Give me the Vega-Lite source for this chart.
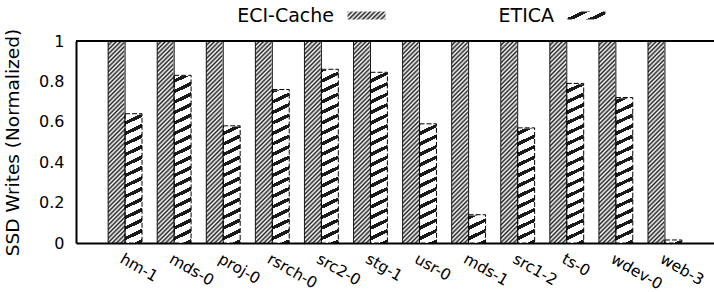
{
  "$schema": "https://vega.github.io/schema/vega-lite/v6.json",
  "autosize": "none",
  "width": 638,
  "height": 202,
  "padding": {"left": 76, "top": 41, "right": 0, "bottom": 49},
  "background": "white",
  "config": {
    "font": "DejaVu Sans",
    "view": {"stroke": null},
    "axis": {"domainColor": "black", "domainWidth": 2, "labelColor": "black", "titleColor": "black", "ticks": false, "grid": false},
    "legend": {"symbolOpacity": 1}
  },
  "resolve": {"scale": {"strokeDash": "independent"}, "legend": {"strokeDash": "independent"}},
  "data": {
    "values": [
      {"workload": "hm-1", "system": "ECI-Cache", "value": 1},
      {"workload": "hm-1", "system": "ETICA", "value": 0.64},
      {"workload": "mds-0", "system": "ECI-Cache", "value": 1},
      {"workload": "mds-0", "system": "ETICA", "value": 0.83},
      {"workload": "proj-0", "system": "ECI-Cache", "value": 1},
      {"workload": "proj-0", "system": "ETICA", "value": 0.58},
      {"workload": "rsrch-0", "system": "ECI-Cache", "value": 1},
      {"workload": "rsrch-0", "system": "ETICA", "value": 0.76},
      {"workload": "src2-0", "system": "ECI-Cache", "value": 1},
      {"workload": "src2-0", "system": "ETICA", "value": 0.86},
      {"workload": "stg-1", "system": "ECI-Cache", "value": 1},
      {"workload": "stg-1", "system": "ETICA", "value": 0.845},
      {"workload": "usr-0", "system": "ECI-Cache", "value": 1},
      {"workload": "usr-0", "system": "ETICA", "value": 0.59},
      {"workload": "mds-1", "system": "ECI-Cache", "value": 1},
      {"workload": "mds-1", "system": "ETICA", "value": 0.14},
      {"workload": "src1-2", "system": "ECI-Cache", "value": 1},
      {"workload": "src1-2", "system": "ETICA", "value": 0.57},
      {"workload": "ts-0", "system": "ECI-Cache", "value": 1},
      {"workload": "ts-0", "system": "ETICA", "value": 0.79},
      {"workload": "wdev-0", "system": "ECI-Cache", "value": 1},
      {"workload": "wdev-0", "system": "ETICA", "value": 0.72},
      {"workload": "web-3", "system": "ECI-Cache", "value": 1},
      {"workload": "web-3", "system": "ETICA", "value": 0.015}
    ]
  },
  "layer": [
    {
      "resolve": {"scale": {"strokeDash": "independent"}, "legend": {"strokeDash": "independent"}},
      "encoding": {
        "x": {
          "field": "workload", "type": "nominal", "title": null,
          "scale": {"domain": ["hm-1","mds-0","proj-0","rsrch-0","src2-0","stg-1","usr-0","mds-1","src1-2","ts-0","wdev-0","web-3"], "paddingInner": 0.31, "paddingOuter": 0.655},
          "axis": {"labelAngle": 30, "labelAlign": "left", "labelBaseline": "top", "labelPadding": 8, "labelFontSize": 15.5}
        },
        "xOffset": {"field": "system", "type": "nominal", "scale": {"domain": ["ECI-Cache", "ETICA"], "paddingInner": 0, "paddingOuter": 0}}
      },
      "layer": [
        {
          "transform": [{"filter": "datum.system === 'ECI-Cache'"}],
          "mark": {"type": "bar", "strokeWidth": 0, "fill": {"gradient": "linear", "x1": 0, "y1": 0, "x2": 0.0907, "y2": 1.0775, "stops": [
            {"offset": 0, "color": "#222"}, {"offset": 0.01, "color": "#fff"}, {"offset": 0.02, "color": "#222"}, {"offset": 0.03, "color": "#fff"},
            {"offset": 0.04, "color": "#222"}, {"offset": 0.05, "color": "#fff"}, {"offset": 0.06, "color": "#222"}, {"offset": 0.07, "color": "#fff"},
            {"offset": 0.08, "color": "#222"}, {"offset": 0.09, "color": "#fff"}, {"offset": 0.1, "color": "#222"}, {"offset": 0.11, "color": "#fff"},
            {"offset": 0.12, "color": "#222"}, {"offset": 0.13, "color": "#fff"}, {"offset": 0.14, "color": "#222"}, {"offset": 0.15, "color": "#fff"},
            {"offset": 0.16, "color": "#222"}, {"offset": 0.17, "color": "#fff"}, {"offset": 0.18, "color": "#222"}, {"offset": 0.19, "color": "#fff"},
            {"offset": 0.2, "color": "#222"}, {"offset": 0.21, "color": "#fff"}, {"offset": 0.22, "color": "#222"}, {"offset": 0.23, "color": "#fff"},
            {"offset": 0.24, "color": "#222"}, {"offset": 0.25, "color": "#fff"}, {"offset": 0.26, "color": "#222"}, {"offset": 0.27, "color": "#fff"},
            {"offset": 0.28, "color": "#222"}, {"offset": 0.29, "color": "#fff"}, {"offset": 0.3, "color": "#222"}, {"offset": 0.31, "color": "#fff"},
            {"offset": 0.32, "color": "#222"}, {"offset": 0.33, "color": "#fff"}, {"offset": 0.34, "color": "#222"}, {"offset": 0.35, "color": "#fff"},
            {"offset": 0.36, "color": "#222"}, {"offset": 0.37, "color": "#fff"}, {"offset": 0.38, "color": "#222"}, {"offset": 0.39, "color": "#fff"},
            {"offset": 0.4, "color": "#222"}, {"offset": 0.41, "color": "#fff"}, {"offset": 0.42, "color": "#222"}, {"offset": 0.43, "color": "#fff"},
            {"offset": 0.44, "color": "#222"}, {"offset": 0.45, "color": "#fff"}, {"offset": 0.46, "color": "#222"}, {"offset": 0.47, "color": "#fff"},
            {"offset": 0.48, "color": "#222"}, {"offset": 0.49, "color": "#fff"}, {"offset": 0.5, "color": "#222"}, {"offset": 0.51, "color": "#fff"},
            {"offset": 0.52, "color": "#222"}, {"offset": 0.53, "color": "#fff"}, {"offset": 0.54, "color": "#222"}, {"offset": 0.55, "color": "#fff"},
            {"offset": 0.56, "color": "#222"}, {"offset": 0.57, "color": "#fff"}, {"offset": 0.58, "color": "#222"}, {"offset": 0.59, "color": "#fff"},
            {"offset": 0.6, "color": "#222"}, {"offset": 0.61, "color": "#fff"}, {"offset": 0.62, "color": "#222"}, {"offset": 0.63, "color": "#fff"},
            {"offset": 0.64, "color": "#222"}, {"offset": 0.65, "color": "#fff"}, {"offset": 0.66, "color": "#222"}, {"offset": 0.67, "color": "#fff"},
            {"offset": 0.68, "color": "#222"}, {"offset": 0.69, "color": "#fff"}, {"offset": 0.7, "color": "#222"}, {"offset": 0.71, "color": "#fff"},
            {"offset": 0.72, "color": "#222"}, {"offset": 0.73, "color": "#fff"}, {"offset": 0.74, "color": "#222"}, {"offset": 0.75, "color": "#fff"},
            {"offset": 0.76, "color": "#222"}, {"offset": 0.77, "color": "#fff"}, {"offset": 0.78, "color": "#222"}, {"offset": 0.79, "color": "#fff"},
            {"offset": 0.8, "color": "#222"}, {"offset": 0.81, "color": "#fff"}, {"offset": 0.82, "color": "#222"}, {"offset": 0.83, "color": "#fff"},
            {"offset": 0.84, "color": "#222"}, {"offset": 0.85, "color": "#fff"}, {"offset": 0.86, "color": "#222"}, {"offset": 0.87, "color": "#fff"},
            {"offset": 0.88, "color": "#222"}, {"offset": 0.89, "color": "#fff"}, {"offset": 0.9, "color": "#222"}, {"offset": 0.91, "color": "#fff"},
            {"offset": 0.92, "color": "#222"}, {"offset": 0.93, "color": "#fff"}, {"offset": 0.94, "color": "#222"}, {"offset": 0.95, "color": "#fff"},
            {"offset": 0.96, "color": "#222"}, {"offset": 0.97, "color": "#fff"}, {"offset": 0.98, "color": "#222"}, {"offset": 0.99, "color": "#fff"},
            {"offset": 1, "color": "#222"}
          ]}},
          "encoding": {
            "y": {"field": "value", "type": "quantitative", "title": "SSD Writes (Normalized)",
              "scale": {"domain": [0, 1], "nice": false},
              "axis": {"values": [0, 0.2, 0.4, 0.6, 0.8, 1], "format": "~g", "labelFontSize": 16, "labelPadding": 12, "titleFontSize": 18.5, "titleFontWeight": "normal", "titlePadding": 16}}
          }
        },
        {
          "transform": [{"filter": "datum.system === 'ETICA'"}],
          "mark": {"type": "bar", "strokeWidth": 0, "fill": {"gradient": "linear", "x1": 0, "y1": 0, "x2": 0.0411, "y2": 1.0379, "stops": [
            {"offset": 0, "color": "#fff"}, {"offset": 0.032, "color": "#fff"}, {"offset": 0.032, "color": "#1a1a1a"}, {"offset": 0.05, "color": "#1a1a1a"},
            {"offset": 0.05, "color": "#fff"}, {"offset": 0.082, "color": "#fff"}, {"offset": 0.082, "color": "#1a1a1a"}, {"offset": 0.1, "color": "#1a1a1a"},
            {"offset": 0.1, "color": "#fff"}, {"offset": 0.132, "color": "#fff"}, {"offset": 0.132, "color": "#1a1a1a"}, {"offset": 0.15, "color": "#1a1a1a"},
            {"offset": 0.15, "color": "#fff"}, {"offset": 0.182, "color": "#fff"}, {"offset": 0.182, "color": "#1a1a1a"}, {"offset": 0.2, "color": "#1a1a1a"},
            {"offset": 0.2, "color": "#fff"}, {"offset": 0.232, "color": "#fff"}, {"offset": 0.232, "color": "#1a1a1a"}, {"offset": 0.25, "color": "#1a1a1a"},
            {"offset": 0.25, "color": "#fff"}, {"offset": 0.282, "color": "#fff"}, {"offset": 0.282, "color": "#1a1a1a"}, {"offset": 0.3, "color": "#1a1a1a"},
            {"offset": 0.3, "color": "#fff"}, {"offset": 0.332, "color": "#fff"}, {"offset": 0.332, "color": "#1a1a1a"}, {"offset": 0.35, "color": "#1a1a1a"},
            {"offset": 0.35, "color": "#fff"}, {"offset": 0.382, "color": "#fff"}, {"offset": 0.382, "color": "#1a1a1a"}, {"offset": 0.4, "color": "#1a1a1a"},
            {"offset": 0.4, "color": "#fff"}, {"offset": 0.432, "color": "#fff"}, {"offset": 0.432, "color": "#1a1a1a"}, {"offset": 0.45, "color": "#1a1a1a"},
            {"offset": 0.45, "color": "#fff"}, {"offset": 0.482, "color": "#fff"}, {"offset": 0.482, "color": "#1a1a1a"}, {"offset": 0.5, "color": "#1a1a1a"},
            {"offset": 0.5, "color": "#fff"}, {"offset": 0.532, "color": "#fff"}, {"offset": 0.532, "color": "#1a1a1a"}, {"offset": 0.55, "color": "#1a1a1a"},
            {"offset": 0.55, "color": "#fff"}, {"offset": 0.582, "color": "#fff"}, {"offset": 0.582, "color": "#1a1a1a"}, {"offset": 0.6, "color": "#1a1a1a"},
            {"offset": 0.6, "color": "#fff"}, {"offset": 0.632, "color": "#fff"}, {"offset": 0.632, "color": "#1a1a1a"}, {"offset": 0.65, "color": "#1a1a1a"},
            {"offset": 0.65, "color": "#fff"}, {"offset": 0.682, "color": "#fff"}, {"offset": 0.682, "color": "#1a1a1a"}, {"offset": 0.7, "color": "#1a1a1a"},
            {"offset": 0.7, "color": "#fff"}, {"offset": 0.732, "color": "#fff"}, {"offset": 0.732, "color": "#1a1a1a"}, {"offset": 0.75, "color": "#1a1a1a"},
            {"offset": 0.75, "color": "#fff"}, {"offset": 0.782, "color": "#fff"}, {"offset": 0.782, "color": "#1a1a1a"}, {"offset": 0.8, "color": "#1a1a1a"},
            {"offset": 0.8, "color": "#fff"}, {"offset": 0.832, "color": "#fff"}, {"offset": 0.832, "color": "#1a1a1a"}, {"offset": 0.85, "color": "#1a1a1a"},
            {"offset": 0.85, "color": "#fff"}, {"offset": 0.882, "color": "#fff"}, {"offset": 0.882, "color": "#1a1a1a"}, {"offset": 0.9, "color": "#1a1a1a"},
            {"offset": 0.9, "color": "#fff"}, {"offset": 0.932, "color": "#fff"}, {"offset": 0.932, "color": "#1a1a1a"}, {"offset": 0.95, "color": "#1a1a1a"},
            {"offset": 0.95, "color": "#fff"}, {"offset": 0.982, "color": "#fff"}, {"offset": 0.982, "color": "#1a1a1a"}, {"offset": 1, "color": "#1a1a1a"}
          ]}},
          "encoding": {
            "y": {"datum": 1, "type": "quantitative", "title": "SSD Writes (Normalized)"},
            "y2": {"datum": 0}
          }
        },
        {
          "transform": [{"filter": "datum.system === 'ETICA'"}],
          "mark": {"type": "bar", "fill": "white", "stroke": "white", "strokeWidth": 1.5},
          "encoding": {
            "y": {"field": "value", "type": "quantitative", "title": "SSD Writes (Normalized)"},
            "y2": {"datum": 1}
          }
        },
        {
          "mark": {"type": "bar", "fill": "transparent", "stroke": "black", "strokeWidth": 1},
          "encoding": {
            "y": {"field": "value", "type": "quantitative", "title": "SSD Writes (Normalized)"},
            "strokeDash": {"condition": {"test": "datum.system === 'ETICA'", "value": [5, 2]}, "value": [1, 0]}
          }
        },
        {
          "transform": [{"filter": "datum.system === 'ECI-Cache'"}],
          "mark": {"type": "bar", "opacity": 0, "stroke": "black", "strokeWidth": 1, "fill": {"gradient": "linear", "x1": 0, "y1": 0, "x2": 1.159, "y2": 0.244, "stops": [
            {"offset": 0, "color": "#222"}, {"offset": 0.05, "color": "#fff"}, {"offset": 0.1, "color": "#222"}, {"offset": 0.15, "color": "#fff"},
            {"offset": 0.2, "color": "#222"}, {"offset": 0.25, "color": "#fff"}, {"offset": 0.3, "color": "#222"}, {"offset": 0.35, "color": "#fff"},
            {"offset": 0.4, "color": "#222"}, {"offset": 0.45, "color": "#fff"}, {"offset": 0.5, "color": "#222"}, {"offset": 0.55, "color": "#fff"},
            {"offset": 0.6, "color": "#222"}, {"offset": 0.65, "color": "#fff"}, {"offset": 0.7, "color": "#222"}, {"offset": 0.75, "color": "#fff"},
            {"offset": 0.8, "color": "#222"}, {"offset": 0.85, "color": "#fff"}, {"offset": 0.9, "color": "#222"}, {"offset": 0.95, "color": "#fff"},
            {"offset": 1, "color": "#222"}
          ]}},
          "encoding": {
            "y": {"field": "value", "type": "quantitative", "title": "SSD Writes (Normalized)"},
            "strokeDash": {
              "field": "system", "type": "nominal",
              "scale": {"domain": ["ECI-Cache"], "range": [[1, 0]]},
              "legend": {
                "title": null, "orient": "none", "legendX": 271, "legendY": -45, "direction": "horizontal",
                "symbolType": "M-1,-0.21H1V0.21H-1Z", "symbolSize": 1444, "symbolStrokeWidth": 1, "symbolStrokeColor": "black", "symbolOpacity": 1,
                "labelAlign": "right", "labelOffset": -52, "labelFontSize": 19, "labelColor": "black"
              }
            }
          }
        },
        {
          "transform": [{"filter": "datum.system === 'ETICA'"}],
          "mark": {"type": "bar", "opacity": 0, "stroke": "black", "strokeWidth": 1, "fill": {"gradient": "linear", "x1": 0, "y1": 0, "x2": 1.206, "y2": 0.5395, "stops": [
            {"offset": 0, "color": "#fff"}, {"offset": 0.25, "color": "#fff"}, {"offset": 0.25, "color": "#1a1a1a"}, {"offset": 0.4, "color": "#1a1a1a"},
            {"offset": 0.4, "color": "#fff"}, {"offset": 0.65, "color": "#fff"}, {"offset": 0.65, "color": "#1a1a1a"}, {"offset": 0.8, "color": "#1a1a1a"},
            {"offset": 0.8, "color": "#fff"}, {"offset": 1, "color": "#fff"}
          ]}},
          "encoding": {
            "y": {"field": "value", "type": "quantitative", "title": "SSD Writes (Normalized)"},
            "strokeDash": {
              "field": "system", "type": "nominal",
              "scale": {"domain": ["ETICA"], "range": [[5, 2]]},
              "legend": {
                "title": null, "orient": "none", "legendX": 491, "legendY": -45, "direction": "horizontal",
                "symbolType": "M-1,-0.21H1V0.21H-1Z", "symbolSize": 1444, "symbolStrokeWidth": 1, "symbolStrokeColor": "black", "symbolOpacity": 1,
                "labelAlign": "right", "labelOffset": -52, "labelFontSize": 19, "labelColor": "black"
              }
            }
          }
        }
      ]
    },
    {
      "mark": {"type": "rule", "color": "black", "strokeWidth": 2},
      "encoding": {"y": {"datum": 1, "type": "quantitative", "title": "SSD Writes (Normalized)"}}
    }
  ]
}
